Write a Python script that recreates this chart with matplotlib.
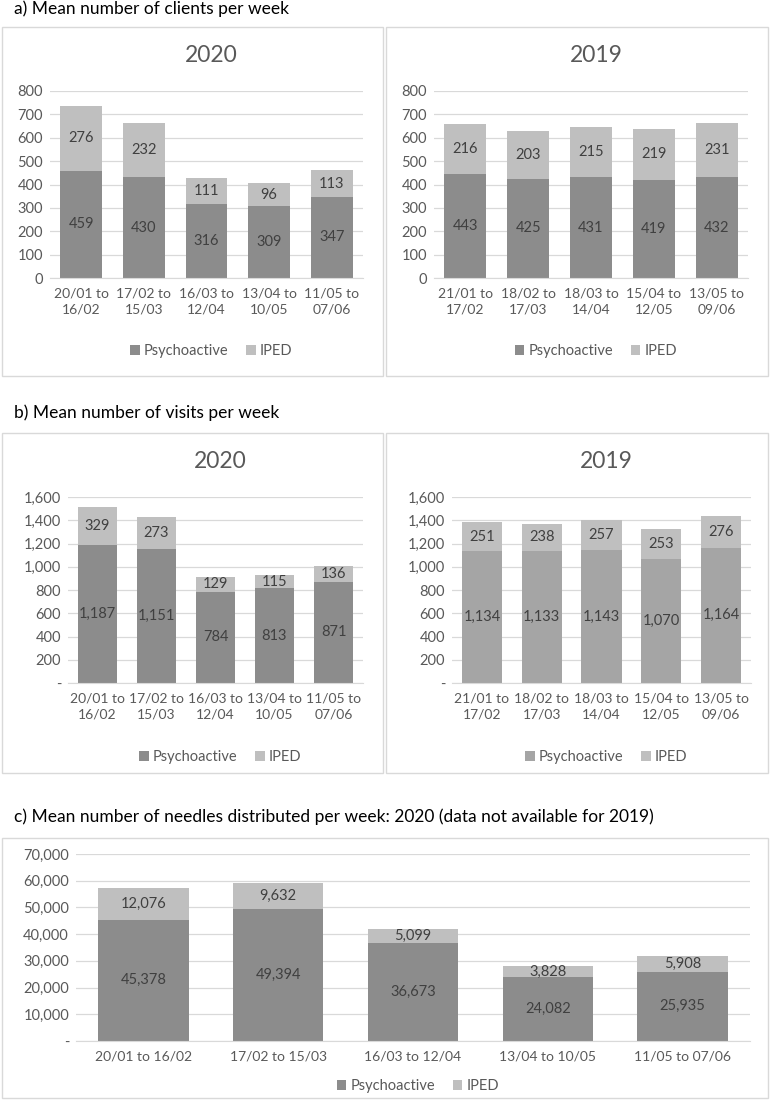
import matplotlib
matplotlib.use("Agg")
import matplotlib.pyplot as plt
from matplotlib.patches import Patch, Rectangle
from matplotlib.ticker import FuncFormatter

plt.rcParams['font.family'] = ['Lato', 'DejaVu Sans']

# ---- data ----
cats_2020 = ["20/01 to\n16/02", "17/02 to\n15/03", "16/03 to\n12/04", "13/04 to\n10/05", "11/05 to\n07/06"]
cats_2019 = ["21/01 to\n17/02", "18/02 to\n17/03", "18/03 to\n14/04", "15/04 to\n12/05", "13/05 to\n09/06"]
cats_c = ["20/01 to 16/02", "17/02 to 15/03", "16/03 to 12/04", "13/04 to 10/05", "11/05 to 07/06"]

clients_2020_psy = [459, 430, 316, 309, 347]
clients_2020_iped = [276, 232, 111, 96, 113]
clients_2019_psy = [443, 425, 431, 419, 432]
clients_2019_iped = [216, 203, 215, 219, 231]

visits_2020_psy = [1187, 1151, 784, 813, 871]
visits_2020_iped = [329, 273, 129, 115, 136]
visits_2019_psy = [1134, 1133, 1143, 1070, 1164]
visits_2019_iped = [251, 238, 257, 253, 276]

needles_psy = [45378, 49394, 36673, 24082, 25935]
needles_iped = [12076, 9632, 5099, 3828, 5908]

DARK = "#8c8c8c"
MID = "#a5a5a5"
LIGHT = "#bfbfbf"
TXT = "#404040"
TICK = "#595959"
GRID = "#d9d9d9"

W, H = 770, 1101
fig = plt.figure(figsize=(W / 100, H / 100), dpi=100)
fig.patch.set_facecolor("white")


def fx(px):
    return px / W


def fy(py):
    return 1 - py / H


def add_box(x0, y0, x1, y1):
    fig.patches.append(Rectangle((fx(x0), fy(y1)), fx(x1) - fx(x0), fy(y0) - fy(y1),
                                 transform=fig.transFigure, facecolor="none",
                                 edgecolor=GRID, linewidth=1.0, zorder=0))


def comma(v, pos):
    if v == 0:
        return "-"
    return f"{int(v):,}"


def panel(x0, x1, ytop, ybot, cats, psy, iped, ymax, step, psy_color, year=None,
          year_y=None, fmt=None, legend_y=None, tick_fs=10):
    ax = fig.add_axes([fx(x0), fy(ybot), fx(x1) - fx(x0), fy(ytop) - fy(ybot)])
    x = list(range(len(cats)))
    ax.bar(x, psy, width=0.67, color=psy_color, zorder=2, label="Psychoactive")
    ax.bar(x, iped, width=0.67, bottom=psy, color=LIGHT, zorder=2, label="IPED")
    for i in x:
        ax.text(i, psy[i] / 2, f"{psy[i]:,}", ha="center", va="center", fontsize=10.5, color=TXT, zorder=3)
        ax.text(i, psy[i] + iped[i] / 2, f"{iped[i]:,}", ha="center", va="center", fontsize=10.5, color=TXT, zorder=3)
    ax.set_xlim(-0.5, len(cats) - 0.5)
    ax.set_ylim(0, ymax)
    ax.set_yticks(list(range(0, ymax + 1, step)))
    if fmt is not None:
        ax.yaxis.set_major_formatter(FuncFormatter(fmt))
    ax.set_xticks(x)
    ax.set_xticklabels(cats, fontsize=tick_fs, color=TICK, linespacing=1.35)
    ax.tick_params(axis="y", labelsize=10.5, labelcolor=TICK, length=0, pad=5)
    ax.tick_params(axis="x", length=0, pad=7)
    ax.grid(axis="y", color=GRID, linewidth=0.9, zorder=0)
    for s in ["top", "right", "left"]:
        ax.spines[s].set_visible(False)
    ax.spines["bottom"].set_color(GRID)
    ax.set_facecolor("none")
    if year is not None:
        fig.text(fx((x0 + x1) / 2 + 5), fy(year_y), year, ha="center", va="center", fontsize=16.5,
                 color=TICK)
    handles = [Patch(facecolor=psy_color, edgecolor="none", label="Psychoactive"),
               Patch(facecolor=LIGHT, edgecolor="none", label="IPED")]
    fig.legend(handles=handles, loc="center", bbox_to_anchor=(fx((x0 + x1) / 2 + 5), fy(legend_y)),
               ncol=2, frameon=False, fontsize=10.5, handlelength=0.65, handleheight=0.65,
               handletextpad=0.3, columnspacing=1.2, labelcolor=TICK)
    return ax


# section titles
fig.text(fx(14), fy(9), "a) Mean number of clients per week", ha="left", va="center", fontsize=12.5, color="black")
fig.text(fx(14), fy(413), "b) Mean number of visits per week", ha="left", va="center", fontsize=12.5, color="black")
fig.text(fx(14), fy(817), "c) Mean number of needles distributed per week: 2020 (data not available for 2019)",
         ha="left", va="center", fontsize=12.5, color="black")

# boxes
add_box(2, 27, 383, 376)
add_box(386, 27, 768, 376)
add_box(2, 433, 383, 773)
add_box(386, 433, 768, 773)
add_box(2, 838, 768, 1098)

# panel a
panel(50, 363, 91, 278, cats_2020, clients_2020_psy, clients_2020_iped, 800, 100, DARK,
      year="2020", year_y=55, legend_y=351)
panel(434, 748, 91, 278, cats_2019, clients_2019_psy, clients_2019_iped, 800, 100, DARK,
      year="2019", year_y=55, legend_y=351)

# panel b
panel(68, 363, 497, 683, cats_2020, visits_2020_psy, visits_2020_iped, 1600, 200, DARK,
      year="2020", year_y=462, fmt=comma, legend_y=757)
panel(452, 751, 497, 683, cats_2019, visits_2019_psy, visits_2019_iped, 1600, 200, MID,
      year="2019", year_y=462, fmt=comma, legend_y=757)

# panel c
panel(76, 750, 854, 1041, cats_c, needles_psy, needles_iped, 70000, 10000, DARK,
      fmt=comma, legend_y=1086)

fig.savefig("out.png", dpi=100, facecolor="white")
